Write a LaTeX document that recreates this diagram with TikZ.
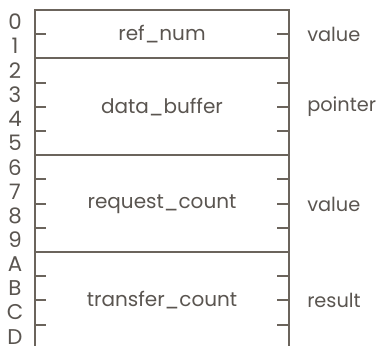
\documentclass[tikz,border=0pt]{standalone}
\usepackage{fontspec}
\setmainfont{Poppins}
\definecolor{rulegray}{HTML}{6B645C}
\definecolor{inkgray}{HTML}{5A5550}
\tikzset{
  frameline/.style={draw=rulegray,line width=1.5pt},
  tickline/.style={draw=rulegray,line width=1.5pt},
  fieldname/.style={text=inkgray,font=\fontsize{15}{17}\selectfont,inner sep=0pt},
  sidelabel/.style={text=inkgray,font=\fontsize{14.5}{17}\selectfont,inner sep=0pt,anchor=west},
  rowlabel/.style={text=inkgray,font=\fontsize{16}{18}\selectfont,inner sep=0pt}
}

\begin{document}
\begin{tikzpicture}[x=0.75pt,y=-0.75pt]
  \useasboundingbox (0,0) rectangle (383,346);

  % outline of the parameter block, open at the bottom
  \draw[frameline] (35,346)--(35,10)--(289,10)--(289,346);
  \foreach \k in {2,6,10}
    \draw[frameline] (35,10+24.2*\k)--(289,10+24.2*\k);

  % byte ticks on both sides
  \foreach \k in {1,3,4,5,7,8,9,11,12,13}{
    \draw[tickline] (35,10+24.2*\k)--(46,10+24.2*\k);
    \draw[tickline] (277,10+24.2*\k)--(289,10+24.2*\k);
  }

  % byte offsets
  \foreach \lbl [count=\i from 0] in {0,1,2,3,4,5,6,7,8,9,A,B,C,D}
    \node[rowlabel] (off\lbl) at (15,22+24.2*\i) {\lbl};

  % fields
  \node[fieldname] (refnum) at (162,34) {ref\_num};
  \node[fieldname] (databuf) at (162,107) {data\_buffer};
  \node[fieldname] (reqcount) at (162,204) {request\_count};
  \node[fieldname] (xfercount) at (162,300) {transfer\_count};

  \node[sidelabel] (refkind) at (307,34) {value};
  \node[sidelabel] (bufkind) at (307,107) {pointer};
  \node[sidelabel] (reqkind) at (307,204) {value};
  \node[sidelabel] (xferkind) at (307,300) {result};
\end{tikzpicture}
\end{document}
